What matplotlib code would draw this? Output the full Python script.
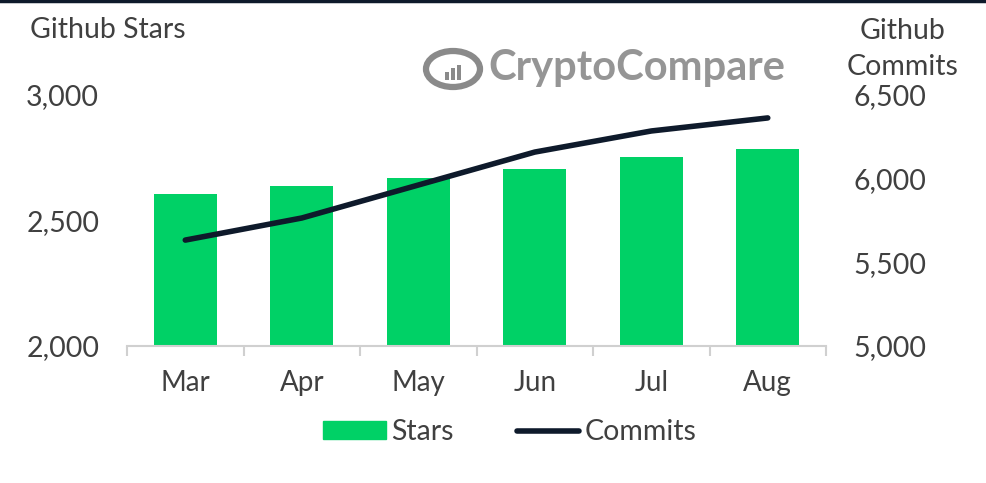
import matplotlib
matplotlib.use("Agg")
import matplotlib.pyplot as plt
from matplotlib.lines import Line2D
from matplotlib.patches import Patch, Ellipse
from matplotlib.ticker import FuncFormatter, FixedLocator
import numpy as np

months = ["Mar", "Apr", "May", "Jun", "Jul", "Aug"]
stars = [2606, 2637, 2669, 2706, 2754, 2786]
commits = [5633, 5765, 5962, 6159, 6285, 6363]

GREEN = "#00D166"
NAVY = "#0E1A2B"
TXT = "#404040"

plt.rcParams["font.family"] = ["Lato", "DejaVu Sans"]

fig = plt.figure(figsize=(9.87, 4.83), dpi=100)
ax = fig.add_axes([0.1287, 0.2836, 0.7082, 0.5197])
ax2 = ax.twinx()

x = np.arange(len(months))
ax.bar(x, stars, width=0.54, color=GREEN, zorder=2)
ax2.plot(x, commits, color=NAVY, lw=4, solid_capstyle="round", solid_joinstyle="round", zorder=3)

ax.set_xlim(-0.5, len(months) - 0.5)
ax.set_ylim(2000, 3000)
ax2.set_ylim(5000, 6500)
ax.set_yticks([2000, 2500, 3000])
ax2.set_yticks([5000, 5500, 6000, 6500])
fmt = FuncFormatter(lambda v, p: f"{int(v):,}")
ax.yaxis.set_major_formatter(fmt)
ax2.yaxis.set_major_formatter(fmt)

for a in (ax, ax2):
    for s in a.spines.values():
        s.set_visible(False)
ax.spines["bottom"].set_visible(True)
ax.spines["bottom"].set_color("#D0D0D0")
ax.spines["bottom"].set_linewidth(1.5)

ax.set_xticks(x)
ax.set_xticklabels(months)
ax.xaxis.set_minor_locator(FixedLocator(np.arange(-0.5, len(months), 1.0)))
ax.tick_params(axis="x", which="major", length=0, pad=17, labelsize=20, labelcolor=TXT)
ax.tick_params(axis="x", which="minor", length=7, width=1.5, color="#D0D0D0", direction="out")
ax.tick_params(axis="y", length=0, pad=20, labelsize=20.5, labelcolor=TXT)
ax2.tick_params(axis="y", length=0, pad=20, labelsize=20.5, labelcolor=TXT)

fig.text(30 / 987, 1 - 30 / 483, "Github Stars", fontsize=20.5, color=TXT, ha="left", va="center")
fig.text(903 / 987, 1 - 49 / 483, "Github\nCommits", fontsize=20.5, color=TXT, ha="center", va="center",
         linespacing=1.45)

# watermark
fig.text(637 / 987, 1 - 68 / 483, "CryptoCompare", fontsize=30, fontweight="bold", color="#8A8A8A",
         ha="center", va="center", alpha=0.9)
wax = fig.add_axes([422 / 987, 1 - 92 / 483, 62 / 987, 46 / 483])
wax.set_xlim(0, 62)
wax.set_ylim(0, 46)
wax.axis("off")
wax.add_patch(Ellipse((31, 23), 54, 36, fill=False, lw=4.5, ec="#8A8A8A"))
wax.bar([25, 31, 37], [8, 12, 15], bottom=12, width=4, color="#8A8A8A")

# top border
fig.add_artist(Line2D([0, 1], [0.998, 0.998], color=NAVY, lw=2.5, transform=fig.transFigure))

handles = [Patch(color=GREEN, label="Stars"),
           Line2D([0], [0], color=NAVY, lw=4, solid_capstyle="round", label="Commits")]
fig.legend(handles=handles, loc="center", bbox_to_anchor=(510 / 987, 1 - 432 / 483), ncol=2,
           frameon=False, fontsize=20.5, labelcolor=TXT, handlelength=2.2, handleheight=0.55,
           handletextpad=0.2, columnspacing=2.2)

fig.savefig("out.png", dpi=100, facecolor="white")
